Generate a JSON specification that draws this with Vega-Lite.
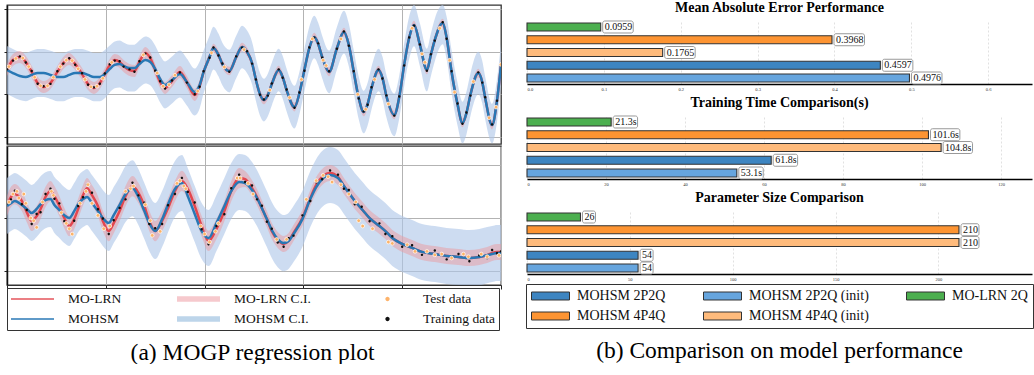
{
  "$schema": "https://vega.github.io/schema/vega-lite/v6.json",
  "background": "white",
  "padding": {"left": 2, "top": 1, "right": 0, "bottom": 0},
  "config": {
    "font": "Liberation Serif",
    "view": {"stroke": "#333", "strokeWidth": 1.3},
    "axis": {"title": null},
    "title": {"font": "Liberation Serif", "color": "#000"}
  },
  "datasets": {
    "top_curve": [
      {"x": 0, "t": 0.14, "m": 0.14, "bl": -0.99, "bh": 1.27, "rl": -0.14, "rh": 0.42, "o": 0.18},
      {"x": 0.06, "t": 0.61, "m": 0.0, "bl": -1.13, "bh": 1.13, "rl": 0.33, "rh": 0.89, "o": 0.58},
      {"x": 0.13, "t": 0.75, "m": -0.14, "bl": -1.27, "bh": 0.99, "rl": 0.47, "rh": 1.03, "o": 0.78},
      {"x": 0.19, "t": 0.52, "m": -0.19, "bl": -1.32, "bh": 0.94, "rl": 0.24, "rh": 0.8, "o": 0.49},
      {"x": 0.25, "t": 0.05, "m": -0.09, "bl": -1.22, "bh": 1.04, "rl": -0.23, "rh": 0.33, "o": 0.09},
      {"x": 0.31, "t": -0.47, "m": 0.0, "bl": -1.13, "bh": 1.13, "rl": -0.75, "rh": -0.19, "o": -0.5},
      {"x": 0.37, "t": -0.66, "m": 0.0, "bl": -1.13, "bh": 1.13, "rl": -0.94, "rh": -0.38, "o": -0.62},
      {"x": 0.44, "t": -0.47, "m": -0.09, "bl": -1.22, "bh": 1.04, "rl": -0.75, "rh": -0.19, "o": -0.51},
      {"x": 0.51, "t": 0.05, "m": -0.19, "bl": -1.32, "bh": 0.94, "rl": -0.23, "rh": 0.33, "o": 0.08},
      {"x": 0.57, "t": 0.47, "m": -0.19, "bl": -1.32, "bh": 0.94, "rl": 0.19, "rh": 0.75, "o": 0.44},
      {"x": 0.63, "t": 0.66, "m": -0.09, "bl": -1.22, "bh": 1.04, "rl": 0.38, "rh": 0.94, "o": 0.69},
      {"x": 0.69, "t": 0.42, "m": 0.0, "bl": -1.13, "bh": 1.13, "rl": 0.14, "rh": 0.7, "o": 0.39},
      {"x": 0.76, "t": -0.05, "m": 0.0, "bl": -1.13, "bh": 1.13, "rl": -0.33, "rh": 0.23, "o": -0.01},
      {"x": 0.82, "t": -0.52, "m": -0.09, "bl": -1.22, "bh": 1.04, "rl": -0.8, "rh": -0.24, "o": -0.55},
      {"x": 0.88, "t": -0.7, "m": -0.19, "bl": -1.32, "bh": 0.94, "rl": -0.98, "rh": -0.42, "o": -0.67},
      {"x": 0.94, "t": -0.47, "m": -0.19, "bl": -1.32, "bh": 0.94, "rl": -0.75, "rh": -0.19, "o": -0.5},
      {"x": 0.99, "t": -0.05, "m": -0.05, "bl": -1.18, "bh": 1.08, "rl": -0.33, "rh": 0.23, "o": -0.02},
      {"x": 1.04, "t": 0.38, "m": 0.19, "bl": -0.91, "bh": 1.29, "rl": 0.1, "rh": 0.66, "o": 0.41},
      {"x": 1.09, "t": 0.61, "m": 0.38, "bl": -0.72, "bh": 1.48, "rl": 0.33, "rh": 0.89, "o": 0.58},
      {"x": 1.14, "t": 0.52, "m": 0.42, "bl": -0.68, "bh": 1.52, "rl": 0.24, "rh": 0.8, "o": 0.55},
      {"x": 1.18, "t": 0.33, "m": 0.33, "bl": -0.77, "bh": 1.43, "rl": 0.05, "rh": 0.61, "o": 0.3},
      {"x": 1.24, "t": 0.14, "m": 0.23, "bl": -0.87, "bh": 1.33, "rl": -0.14, "rh": 0.42, "o": 0.17},
      {"x": 1.29, "t": 0.09, "m": 0.23, "bl": -0.87, "bh": 1.33, "rl": -0.19, "rh": 0.37, "o": 0.06},
      {"x": 1.34, "t": 0.52, "m": 0.42, "bl": -0.68, "bh": 1.52, "rl": 0.24, "rh": 0.8, "o": 0.55},
      {"x": 1.4, "t": 0.94, "m": 0.61, "bl": -0.49, "bh": 1.71, "rl": 0.66, "rh": 1.22, "o": 0.91},
      {"x": 1.45, "t": 0.7, "m": 0.52, "bl": -0.58, "bh": 1.62, "rl": 0.42, "rh": 0.98, "o": 0.73},
      {"x": 1.5, "t": 0.14, "m": 0.19, "bl": -0.91, "bh": 1.29, "rl": -0.14, "rh": 0.42, "o": 0.11},
      {"x": 1.55, "t": -0.42, "m": -0.28, "bl": -1.38, "bh": 0.82, "rl": -0.7, "rh": -0.14, "o": -0.39},
      {"x": 1.6, "t": -0.7, "m": -0.56, "bl": -1.66, "bh": 0.54, "rl": -0.98, "rh": -0.42, "o": -0.73},
      {"x": 1.67, "t": -0.38, "m": -0.33, "bl": -1.43, "bh": 0.77, "rl": -0.66, "rh": -0.1, "o": -0.35},
      {"x": 1.75, "t": 0.05, "m": -0.05, "bl": -1.15, "bh": 1.05, "rl": -0.23, "rh": 0.33, "o": 0.02},
      {"x": 1.82, "t": -0.42, "m": -0.42, "bl": -1.52, "bh": 0.68, "rl": -0.7, "rh": -0.14, "o": -0.45},
      {"x": 1.9, "t": -1.03, "m": -0.89, "bl": -1.99, "bh": 0.21, "rl": -1.31, "rh": -0.75, "o": -1.0},
      {"x": 1.95, "t": -0.61, "m": -0.56, "bl": -1.66, "bh": 0.54, "rl": -0.89, "rh": -0.33, "o": -0.64},
      {"x": 1.99, "t": 0.05, "m": 0.05, "bl": -0.95, "bh": 1.05, "rl": -0.15, "rh": 0.25, "o": 0.08},
      {"x": 2.05, "t": 0.75, "m": 0.75, "bl": -0.25, "bh": 1.75, "rl": 0.55, "rh": 0.95, "o": 0.72},
      {"x": 2.09, "t": 1.17, "m": 1.17, "bl": 0.17, "bh": 2.17, "rl": 0.97, "rh": 1.37, "o": 1.2},
      {"x": 2.14, "t": 0.85, "m": 0.85, "bl": -0.15, "bh": 1.85, "rl": 0.65, "rh": 1.05, "o": 0.82},
      {"x": 2.18, "t": 0.42, "m": 0.42, "bl": -0.58, "bh": 1.42, "rl": 0.22, "rh": 0.62, "o": 0.45},
      {"x": 2.25, "t": 0.09, "m": 0.09, "bl": -0.91, "bh": 1.09, "rl": -0.11, "rh": 0.29, "o": 0.06},
      {"x": 2.32, "t": 0.75, "m": 0.75, "bl": -0.25, "bh": 1.75, "rl": 0.55, "rh": 0.95, "o": 0.78},
      {"x": 2.38, "t": 1.22, "m": 1.22, "bl": 0.22, "bh": 2.22, "rl": 1.02, "rh": 1.42, "o": 1.19},
      {"x": 2.43, "t": 0.99, "m": 0.99, "bl": -0.01, "bh": 1.99, "rl": 0.79, "rh": 1.19, "o": 1.02},
      {"x": 2.48, "t": 0.47, "m": 0.47, "bl": -0.53, "bh": 1.47, "rl": 0.27, "rh": 0.67, "o": 0.44},
      {"x": 2.52, "t": -0.33, "m": -0.33, "bl": -1.33, "bh": 0.67, "rl": -0.53, "rh": -0.13, "o": -0.3},
      {"x": 2.56, "t": -0.99, "m": -0.99, "bl": -1.99, "bh": 0.01, "rl": -1.19, "rh": -0.79, "o": -1.02},
      {"x": 2.6, "t": -1.27, "m": -1.27, "bl": -2.27, "bh": -0.27, "rl": -1.47, "rh": -1.07, "o": -1.24},
      {"x": 2.64, "t": -1.03, "m": -1.03, "bl": -2.03, "bh": -0.03, "rl": -1.23, "rh": -0.83, "o": -1.06},
      {"x": 2.68, "t": -0.52, "m": -0.52, "bl": -1.52, "bh": 0.48, "rl": -0.72, "rh": -0.32, "o": -0.49},
      {"x": 2.75, "t": 0.14, "m": 0.14, "bl": -0.86, "bh": 1.14, "rl": -0.06, "rh": 0.34, "o": 0.17},
      {"x": 2.79, "t": -0.19, "m": -0.19, "bl": -1.19, "bh": 0.81, "rl": -0.39, "rh": 0.01, "o": -0.22},
      {"x": 2.83, "t": -0.8, "m": -0.8, "bl": -1.8, "bh": 0.2, "rl": -1.0, "rh": -0.6, "o": -0.77},
      {"x": 2.91, "t": -1.6, "m": -1.6, "bl": -2.6, "bh": -0.6, "rl": -1.8, "rh": -1.4, "o": -1.63},
      {"x": 2.96, "t": -0.94, "m": -0.94, "bl": -1.94, "bh": 0.06, "rl": -1.14, "rh": -0.74, "o": -0.91},
      {"x": 3.01, "t": 0.14, "m": 0.14, "bl": -0.86, "bh": 1.14, "rl": -0.06, "rh": 0.34, "o": 0.11},
      {"x": 3.06, "t": 1.17, "m": 1.17, "bl": 0.17, "bh": 2.17, "rl": 0.97, "rh": 1.37, "o": 1.2},
      {"x": 3.11, "t": 1.69, "m": 1.69, "bl": 0.69, "bh": 2.69, "rl": 1.49, "rh": 1.89, "o": 1.66},
      {"x": 3.15, "t": 1.36, "m": 1.36, "bl": 0.36, "bh": 2.36, "rl": 1.16, "rh": 1.56, "o": 1.39},
      {"x": 3.19, "t": 0.75, "m": 0.75, "bl": -0.25, "bh": 1.75, "rl": 0.55, "rh": 0.95, "o": 0.72},
      {"x": 3.26, "t": 0.05, "m": 0.05, "bl": -0.95, "bh": 1.05, "rl": -0.15, "rh": 0.25, "o": 0.08},
      {"x": 3.34, "t": 1.17, "m": 1.17, "bl": 0.17, "bh": 2.17, "rl": 0.97, "rh": 1.37, "o": 1.14},
      {"x": 3.41, "t": 1.92, "m": 1.92, "bl": 0.92, "bh": 2.92, "rl": 1.72, "rh": 2.12, "o": 1.95},
      {"x": 3.46, "t": 1.31, "m": 1.31, "bl": 0.31, "bh": 2.31, "rl": 1.11, "rh": 1.51, "o": 1.28},
      {"x": 3.51, "t": 0.05, "m": 0.05, "bl": -0.95, "bh": 1.05, "rl": -0.15, "rh": 0.25, "o": 0.08},
      {"x": 3.56, "t": -1.17, "m": -1.17, "bl": -2.17, "bh": -0.17, "rl": -1.37, "rh": -0.97, "o": -1.2},
      {"x": 3.61, "t": -1.83, "m": -1.83, "bl": -2.83, "bh": -0.83, "rl": -2.03, "rh": -1.63, "o": -1.8},
      {"x": 3.65, "t": -1.46, "m": -1.46, "bl": -2.46, "bh": -0.46, "rl": -1.66, "rh": -1.26, "o": -1.49},
      {"x": 3.69, "t": -0.7, "m": -0.7, "bl": -1.7, "bh": 0.3, "rl": -0.9, "rh": -0.5, "o": -0.67},
      {"x": 3.76, "t": 0.14, "m": 0.14, "bl": -0.86, "bh": 1.14, "rl": -0.06, "rh": 0.34, "o": 0.17},
      {"x": 3.8, "t": -0.23, "m": -0.23, "bl": -1.23, "bh": 0.77, "rl": -0.43, "rh": -0.03, "o": -0.26},
      {"x": 3.84, "t": -1.08, "m": -1.08, "bl": -2.08, "bh": -0.08, "rl": -1.28, "rh": -0.88, "o": -1.05},
      {"x": 3.92, "t": -1.97, "m": -1.97, "bl": -2.97, "bh": -0.97, "rl": -2.17, "rh": -1.77, "o": -2.0},
      {"x": 3.97, "t": -1.13, "m": -1.13, "bl": -2.13, "bh": -0.13, "rl": -1.33, "rh": -0.93, "o": -1.1},
      {"x": 4.02, "t": 0.38, "m": 0.38, "bl": -0.62, "bh": 1.38, "rl": 0.18, "rh": 0.58, "o": 0.35},
      {"x": 4.07, "t": 1.64, "m": 1.64, "bl": 0.64, "bh": 2.64, "rl": 1.44, "rh": 1.84, "o": 1.67},
      {"x": 4.12, "t": 2.25, "m": 2.25, "bl": 1.25, "bh": 3.19, "rl": 2.05, "rh": 2.45, "o": 2.22},
      {"x": 4.18, "t": 1.31, "m": 1.31, "bl": 0.31, "bh": 2.31, "rl": 1.11, "rh": 1.51, "o": 1.34},
      {"x": 4.25, "t": 0.14, "m": 0.14, "bl": -0.86, "bh": 1.14, "rl": -0.06, "rh": 0.34, "o": 0.11},
      {"x": 4.29, "t": 0.85, "m": 0.85, "bl": -0.15, "bh": 1.85, "rl": 0.65, "rh": 1.05, "o": 0.88},
      {"x": 4.33, "t": 1.55, "m": 1.55, "bl": 0.55, "bh": 2.55, "rl": 1.35, "rh": 1.75, "o": 1.52},
      {"x": 4.41, "t": 2.35, "m": 2.35, "bl": 1.35, "bh": 3.19, "rl": 2.15, "rh": 2.55, "o": 2.38},
      {"x": 4.45, "t": 1.64, "m": 1.64, "bl": 0.64, "bh": 2.64, "rl": 1.44, "rh": 1.84, "o": 1.61},
      {"x": 4.5, "t": 0.05, "m": 0.05, "bl": -0.95, "bh": 1.05, "rl": -0.15, "rh": 0.25, "o": 0.08},
      {"x": 4.56, "t": -1.46, "m": -1.46, "bl": -2.46, "bh": -0.46, "rl": -1.66, "rh": -1.26, "o": -1.43},
      {"x": 4.61, "t": -2.35, "m": -2.35, "bl": -3.3, "bh": -1.35, "rl": -2.55, "rh": -2.15, "o": -2.38},
      {"x": 4.65, "t": -1.88, "m": -1.88, "bl": -2.88, "bh": -0.88, "rl": -2.08, "rh": -1.68, "o": -1.85},
      {"x": 4.69, "t": -1.03, "m": -1.03, "bl": -2.03, "bh": -0.03, "rl": -1.23, "rh": -0.83, "o": -1.06},
      {"x": 4.77, "t": 0.0, "m": 0.0, "bl": -1.0, "bh": 1.0, "rl": -0.2, "rh": 0.2, "o": 0.03},
      {"x": 4.81, "t": -0.42, "m": -0.42, "bl": -1.42, "bh": 0.58, "rl": -0.62, "rh": -0.22, "o": -0.45},
      {"x": 4.84, "t": -1.17, "m": -1.17, "bl": -2.17, "bh": -0.17, "rl": -1.37, "rh": -0.97, "o": -1.14},
      {"x": 4.91, "t": -2.44, "m": -2.44, "bl": -3.3, "bh": -1.44, "rl": -2.64, "rh": -2.24, "o": -2.41},
      {"x": 4.96, "t": -1.27, "m": -1.27, "bl": -2.27, "bh": -0.27, "rl": -1.47, "rh": -1.07, "o": -1.3},
      {"x": 5.0, "t": 0.38, "m": 0.38, "bl": -0.62, "bh": 1.38, "rl": 0.18, "rh": 0.58, "o": 0.35}
    ],
    "top_test": [
      {"x": 0.02, "y": 0.3}, {"x": 0.09, "y": 0.68}, {"x": 0.16, "y": 0.7}, {"x": 0.22, "y": 0.3},
      {"x": 0.28, "y": -0.2}, {"x": 0.34, "y": -0.6}, {"x": 0.41, "y": -0.6}, {"x": 0.47, "y": -0.2},
      {"x": 0.54, "y": 0.3}, {"x": 0.6, "y": 0.6}, {"x": 0.66, "y": 0.58}, {"x": 0.72, "y": 0.2},
      {"x": 0.79, "y": -0.3}, {"x": 0.85, "y": -0.65}, {"x": 0.91, "y": -0.62}, {"x": 0.97, "y": -0.25},
      {"x": 1.06, "y": 0.5}, {"x": 1.38, "y": 0.85}, {"x": 1.52, "y": 0.0}, {"x": 1.58, "y": -0.62},
      {"x": 1.64, "y": -0.55}, {"x": 1.7, "y": -0.1}, {"x": 1.93, "y": -0.85}, {"x": 2.07, "y": 0.95},
      {"x": 2.2, "y": 0.28}, {"x": 2.4, "y": 1.1}, {"x": 2.66, "y": -0.8}, {"x": 2.86, "y": -1.15},
      {"x": 2.98, "y": -0.3}, {"x": 3.09, "y": 1.6}, {"x": 3.2, "y": 0.6}, {"x": 3.23, "y": 0.35},
      {"x": 3.38, "y": 1.6}, {"x": 3.55, "y": -1.0}, {"x": 3.63, "y": -1.7}, {"x": 3.72, "y": -0.3},
      {"x": 3.86, "y": -1.45}, {"x": 4.1, "y": 2.1}, {"x": 4.2, "y": 0.9}, {"x": 4.23, "y": 0.5},
      {"x": 4.38, "y": 2.1}, {"x": 4.48, "y": 0.6}, {"x": 4.53, "y": -0.9}, {"x": 4.72, "y": -0.4},
      {"x": 4.88, "y": -2.1}, {"x": 4.95, "y": -1.6}, {"x": 5.0, "y": 0.4}
    ],
    "bottom_curve": [
      {"x": 0, "t": 0.45, "m": 0.45, "bl": -0.6, "bh": 1.5, "rl": 0.07, "rh": 0.83, "o": 0.55},
      {"x": 0.04, "t": 0.79, "m": 0.56, "bl": -0.49, "bh": 1.61, "rl": 0.41, "rh": 1.17, "o": 0.7},
      {"x": 0.08, "t": 0.9, "m": 0.64, "bl": -0.41, "bh": 1.69, "rl": 0.52, "rh": 1.28, "o": 1.02},
      {"x": 0.15, "t": 0.64, "m": 0.49, "bl": -0.56, "bh": 1.54, "rl": 0.26, "rh": 1.02, "o": 0.52},
      {"x": 0.2, "t": 0.22, "m": 0.34, "bl": -0.71, "bh": 1.39, "rl": -0.16, "rh": 0.6, "o": 0.3},
      {"x": 0.25, "t": -0.11, "m": 0.19, "bl": -0.86, "bh": 1.24, "rl": -0.49, "rh": 0.27, "o": -0.22},
      {"x": 0.3, "t": 0.07, "m": 0.34, "bl": -0.71, "bh": 1.39, "rl": -0.31, "rh": 0.45, "o": 0.15},
      {"x": 0.34, "t": 0.34, "m": 0.52, "bl": -0.53, "bh": 1.57, "rl": -0.04, "rh": 0.72, "o": 0.22},
      {"x": 0.39, "t": 0.79, "m": 0.67, "bl": -0.38, "bh": 1.72, "rl": 0.41, "rh": 1.17, "o": 0.9},
      {"x": 0.44, "t": 1.01, "m": 0.71, "bl": -0.34, "bh": 1.76, "rl": 0.63, "rh": 1.39, "o": 1.1},
      {"x": 0.48, "t": 0.82, "m": 0.49, "bl": -0.56, "bh": 1.54, "rl": 0.44, "rh": 1.2, "o": 0.72},
      {"x": 0.53, "t": 0.45, "m": 0.3, "bl": -0.75, "bh": 1.35, "rl": 0.07, "rh": 0.83, "o": 0.55},
      {"x": 0.58, "t": 0.0, "m": 0.11, "bl": -0.94, "bh": 1.16, "rl": -0.38, "rh": 0.38, "o": -0.12},
      {"x": 0.63, "t": -0.3, "m": 0.0, "bl": -1.05, "bh": 1.05, "rl": -0.68, "rh": 0.08, "o": -0.42},
      {"x": 0.68, "t": -0.04, "m": 0.26, "bl": -0.79, "bh": 1.31, "rl": -0.42, "rh": 0.34, "o": -0.1},
      {"x": 0.72, "t": 0.34, "m": 0.52, "bl": -0.53, "bh": 1.57, "rl": -0.04, "rh": 0.72, "o": 0.45},
      {"x": 0.77, "t": 0.86, "m": 0.71, "bl": -0.34, "bh": 1.76, "rl": 0.48, "rh": 1.24, "o": 0.78},
      {"x": 0.81, "t": 1.12, "m": 0.79, "bl": -0.26, "bh": 1.84, "rl": 0.74, "rh": 1.5, "o": 1.25},
      {"x": 0.86, "t": 0.86, "m": 0.56, "bl": -0.49, "bh": 1.61, "rl": 0.48, "rh": 1.24, "o": 0.95},
      {"x": 0.92, "t": 0.45, "m": 0.26, "bl": -0.79, "bh": 1.31, "rl": 0.07, "rh": 0.83, "o": 0.33},
      {"x": 0.97, "t": -0.11, "m": 0.0, "bl": -1.05, "bh": 1.05, "rl": -0.49, "rh": 0.27, "o": -0.02},
      {"x": 1.03, "t": -0.49, "m": -0.19, "bl": -1.24, "bh": 0.86, "rl": -0.87, "rh": -0.11, "o": -0.6},
      {"x": 1.08, "t": -0.19, "m": 0.11, "bl": -0.94, "bh": 1.16, "rl": -0.57, "rh": 0.19, "o": -0.08},
      {"x": 1.14, "t": 0.26, "m": 0.49, "bl": -0.56, "bh": 1.54, "rl": -0.12, "rh": 0.64, "o": 0.38},
      {"x": 1.2, "t": 0.82, "m": 0.9, "bl": -0.15, "bh": 1.95, "rl": 0.44, "rh": 1.2, "o": 0.7},
      {"x": 1.27, "t": 1.2, "m": 1.12, "bl": 0.07, "bh": 2.17, "rl": 0.82, "rh": 1.58, "o": 1.32},
      {"x": 1.33, "t": 0.94, "m": 0.79, "bl": -0.26, "bh": 1.84, "rl": 0.56, "rh": 1.32, "o": 0.85},
      {"x": 1.39, "t": 0.45, "m": 0.26, "bl": -0.79, "bh": 1.31, "rl": 0.07, "rh": 0.83, "o": 0.57},
      {"x": 1.44, "t": -0.11, "m": -0.19, "bl": -1.24, "bh": 0.86, "rl": -0.49, "rh": 0.27, "o": -0.22},
      {"x": 1.5, "t": -0.49, "m": -0.49, "bl": -1.54, "bh": 0.56, "rl": -0.87, "rh": -0.11, "o": -0.38},
      {"x": 1.57, "t": -0.11, "m": -0.04, "bl": -1.09, "bh": 1.01, "rl": -0.49, "rh": 0.27, "o": -0.22},
      {"x": 1.63, "t": 0.37, "m": 0.52, "bl": -0.53, "bh": 1.57, "rl": -0.01, "rh": 0.75, "o": 0.48},
      {"x": 1.7, "t": 1.01, "m": 1.09, "bl": 0.04, "bh": 2.14, "rl": 0.63, "rh": 1.39, "o": 0.9},
      {"x": 1.77, "t": 1.39, "m": 1.31, "bl": 0.26, "bh": 2.36, "rl": 1.01, "rh": 1.77, "o": 1.5},
      {"x": 1.83, "t": 1.09, "m": 0.82, "bl": -0.23, "bh": 1.87, "rl": 0.71, "rh": 1.47, "o": 0.98},
      {"x": 1.9, "t": 0.45, "m": 0.15, "bl": -0.9, "bh": 1.2, "rl": 0.07, "rh": 0.83, "o": 0.58},
      {"x": 1.97, "t": -0.3, "m": -0.49, "bl": -1.54, "bh": 0.56, "rl": -0.68, "rh": 0.08, "o": -0.42},
      {"x": 2.04, "t": -0.86, "m": -0.75, "bl": -1.8, "bh": 0.3, "rl": -1.24, "rh": -0.48, "o": -0.98},
      {"x": 2.12, "t": -0.41, "m": -0.19, "bl": -1.24, "bh": 0.86, "rl": -0.79, "rh": -0.03, "o": -0.3},
      {"x": 2.2, "t": 0.26, "m": 0.45, "bl": -0.6, "bh": 1.5, "rl": -0.12, "rh": 0.64, "o": 0.14},
      {"x": 2.27, "t": 1.01, "m": 1.01, "bl": -0.04, "bh": 2.06, "rl": 0.63, "rh": 1.39, "o": 1.12},
      {"x": 2.35, "t": 1.5, "m": 1.35, "bl": 0.3, "bh": 2.4, "rl": 1.12, "rh": 1.88, "o": 1.62},
      {"x": 2.41, "t": 1.46, "m": 1.31, "bl": 0.26, "bh": 2.36, "rl": 1.16, "rh": 1.76, "o": 1.35},
      {"x": 2.48, "t": 1.12, "m": 1.05, "bl": 0.0, "bh": 2.1, "rl": 0.82, "rh": 1.42, "o": 1.22},
      {"x": 2.53, "t": 0.79, "m": 0.75, "bl": -0.3, "bh": 1.8, "rl": 0.49, "rh": 1.09, "o": 0.7},
      {"x": 2.58, "t": 0.37, "m": 0.37, "bl": -0.68, "bh": 1.42, "rl": 0.07, "rh": 0.67, "o": 0.46},
      {"x": 2.63, "t": -0.04, "m": -0.04, "bl": -1.09, "bh": 1.01, "rl": -0.34, "rh": 0.26, "o": -0.14},
      {"x": 2.68, "t": -0.49, "m": -0.45, "bl": -1.5, "bh": 0.6, "rl": -0.79, "rh": -0.19, "o": -0.4},
      {"x": 2.74, "t": -0.82, "m": -0.79, "bl": -1.84, "bh": 0.26, "rl": -1.12, "rh": -0.52, "o": -0.92},
      {"x": 2.8, "t": -0.97, "m": -0.94, "bl": -1.99, "bh": 0.11, "rl": -1.27, "rh": -0.67, "o": -1.08},
      {"x": 2.85, "t": -0.86, "m": -0.86, "bl": -1.91, "bh": 0.19, "rl": -1.16, "rh": -0.56, "o": -0.76},
      {"x": 2.9, "t": -0.56, "m": -0.6, "bl": -1.65, "bh": 0.45, "rl": -0.86, "rh": -0.26, "o": -0.66},
      {"x": 2.99, "t": 0.0, "m": -0.04, "bl": -1.09, "bh": 1.01, "rl": -0.3, "rh": 0.3, "o": 0.1},
      {"x": 3.07, "t": 0.75, "m": 0.71, "bl": -0.34, "bh": 1.76, "rl": 0.45, "rh": 1.05, "o": 0.64},
      {"x": 3.13, "t": 1.24, "m": 1.16, "bl": 0.11, "bh": 2.21, "rl": 0.94, "rh": 1.54, "o": 1.34},
      {"x": 3.19, "t": 1.54, "m": 1.46, "bl": 0.41, "bh": 2.51, "rl": 1.24, "rh": 1.84, "o": 1.45},
      {"x": 3.27, "t": 1.69, "m": 1.61, "bl": 0.56, "bh": 2.66, "rl": 1.39, "rh": 1.99, "o": 1.78},
      {"x": 3.35, "t": 1.54, "m": 1.5, "bl": 0.45, "bh": 2.55, "rl": 1.24, "rh": 1.84, "o": 1.62},
      {"x": 3.41, "t": 1.2, "m": 1.2, "bl": 0.15, "bh": 2.25, "rl": 0.9, "rh": 1.5, "o": 1.1},
      {"x": 3.46, "t": 0.94, "m": 0.94, "bl": -0.11, "bh": 1.99, "rl": 0.64, "rh": 1.24, "o": 1.05},
      {"x": 3.52, "t": 0.64, "m": 0.64, "bl": -0.41, "bh": 1.69, "rl": 0.34, "rh": 0.94, "o": 0.52},
      {"x": 3.59, "t": 0.34, "m": 0.34, "bl": -0.71, "bh": 1.39, "rl": 0.04, "rh": 0.64, "o": 0.42},
      {"x": 3.67, "t": 0.0, "m": 0.0, "bl": -1.05, "bh": 1.05, "rl": -0.3, "rh": 0.3, "o": -0.12},
      {"x": 3.77, "t": -0.3, "m": -0.3, "bl": -1.35, "bh": 0.75, "rl": -0.6, "rh": 0.0, "o": -0.2},
      {"x": 3.83, "t": -0.49, "m": -0.49, "bl": -1.54, "bh": 0.56, "rl": -0.79, "rh": -0.19, "o": -0.6},
      {"x": 3.9, "t": -0.75, "m": -0.75, "bl": -1.8, "bh": 0.3, "rl": -1.05, "rh": -0.45, "o": -0.68},
      {"x": 4.0, "t": -0.97, "m": -0.97, "bl": -2.02, "bh": 0.08, "rl": -1.27, "rh": -0.67, "o": -1.08},
      {"x": 4.1, "t": -1.12, "m": -1.12, "bl": -2.17, "bh": -0.07, "rl": -1.42, "rh": -0.82, "o": -1.02},
      {"x": 4.2, "t": -1.27, "m": -1.27, "bl": -2.32, "bh": -0.22, "rl": -1.57, "rh": -0.97, "o": -1.38},
      {"x": 4.33, "t": -1.35, "m": -1.35, "bl": -2.4, "bh": -0.3, "rl": -1.65, "rh": -1.05, "o": -1.22},
      {"x": 4.45, "t": -1.42, "m": -1.42, "bl": -2.47, "bh": -0.37, "rl": -1.72, "rh": -1.12, "o": -1.55},
      {"x": 4.57, "t": -1.46, "m": -1.46, "bl": -2.51, "bh": -0.41, "rl": -1.76, "rh": -1.16, "o": -1.35},
      {"x": 4.68, "t": -1.5, "m": -1.5, "bl": -2.51, "bh": -0.45, "rl": -1.8, "rh": -1.2, "o": -1.62},
      {"x": 4.78, "t": -1.46, "m": -1.46, "bl": -2.51, "bh": -0.41, "rl": -1.76, "rh": -1.16, "o": -1.4},
      {"x": 4.86, "t": -1.39, "m": -1.39, "bl": -2.44, "bh": -0.34, "rl": -1.69, "rh": -1.09, "o": -1.5},
      {"x": 4.91, "t": -1.31, "m": -1.35, "bl": -2.4, "bh": -0.3, "rl": -1.61, "rh": -1.01, "o": -1.2},
      {"x": 4.96, "t": -1.27, "m": -1.31, "bl": -2.36, "bh": -0.26, "rl": -1.57, "rh": -0.97, "o": -1.32},
      {"x": 5.0, "t": -1.27, "m": -1.31, "bl": -2.36, "bh": -0.26, "rl": -1.57, "rh": -0.97, "o": -1.25}
    ],
    "bottom_test": [
      {"x": 0.02, "y": 0.6}, {"x": 0.06, "y": 0.9}, {"x": 0.1, "y": 1.0}, {"x": 0.12, "y": 0.75},
      {"x": 0.17, "y": 0.9}, {"x": 0.19, "y": 0.55}, {"x": 0.24, "y": 0.0}, {"x": 0.27, "y": -0.1},
      {"x": 0.3, "y": -0.35}, {"x": 0.36, "y": 0.6}, {"x": 0.45, "y": 1.0}, {"x": 0.47, "y": 0.85},
      {"x": 0.55, "y": 0.2}, {"x": 0.6, "y": -0.2}, {"x": 0.63, "y": -0.4}, {"x": 0.66, "y": -0.6},
      {"x": 0.74, "y": 0.55}, {"x": 0.8, "y": 1.0}, {"x": 0.82, "y": 1.25}, {"x": 0.86, "y": 0.55},
      {"x": 0.92, "y": 0.1}, {"x": 0.98, "y": -0.4}, {"x": 1.04, "y": -0.3}, {"x": 1.2, "y": 1.0},
      {"x": 1.25, "y": 1.1}, {"x": 1.28, "y": 1.2}, {"x": 1.4, "y": 0.5}, {"x": 1.45, "y": -0.1},
      {"x": 1.47, "y": -0.65}, {"x": 1.55, "y": -0.5}, {"x": 1.72, "y": 1.3}, {"x": 1.75, "y": 1.4},
      {"x": 1.79, "y": 1.2}, {"x": 1.81, "y": 1.1}, {"x": 1.96, "y": -0.3}, {"x": 2.0, "y": -0.6},
      {"x": 2.05, "y": -0.9}, {"x": 2.11, "y": -0.5}, {"x": 2.14, "y": -0.2}, {"x": 2.33, "y": 1.5},
      {"x": 2.36, "y": 1.5}, {"x": 2.44, "y": 1.3}, {"x": 2.49, "y": 0.9}, {"x": 2.73, "y": -0.8},
      {"x": 2.83, "y": -0.8}, {"x": 3.03, "y": 0.7}, {"x": 3.13, "y": 1.4}, {"x": 3.2, "y": 1.6},
      {"x": 3.25, "y": 1.55}, {"x": 3.29, "y": 1.35}, {"x": 3.38, "y": 1.25}, {"x": 3.46, "y": 0.9},
      {"x": 3.53, "y": 0.6}, {"x": 3.56, "y": -0.1}, {"x": 3.6, "y": -0.3}, {"x": 3.7, "y": -0.4},
      {"x": 3.86, "y": -0.9}, {"x": 3.9, "y": -0.95}, {"x": 4.05, "y": -1.0}, {"x": 4.13, "y": -1.25},
      {"x": 4.25, "y": -1.25}, {"x": 4.33, "y": -1.38}, {"x": 4.4, "y": -1.35}, {"x": 4.5, "y": -1.5},
      {"x": 4.62, "y": -1.35}, {"x": 4.67, "y": -1.45}, {"x": 4.8, "y": -1.35}, {"x": 4.86, "y": -1.45},
      {"x": 4.98, "y": -1.4}
    ],
    "mae": [
      {"model": "MO-LRN 2Q", "v": 0.0959, "label": "0.0959"},
      {"model": "MOHSM 4P4Q", "v": 0.3968, "label": "0.3968"},
      {"model": "MOHSM 4P4Q (init)", "v": 0.1765, "label": "0.1765"},
      {"model": "MOHSM 2P2Q", "v": 0.4597, "label": "0.4597"},
      {"model": "MOHSM 2P2Q (init)", "v": 0.4976, "label": "0.4976"}
    ],
    "time": [
      {"model": "MO-LRN 2Q", "v": 21.3, "label": "21.3s"},
      {"model": "MOHSM 4P4Q", "v": 101.6, "label": "101.6s"},
      {"model": "MOHSM 4P4Q (init)", "v": 104.8, "label": "104.8s"},
      {"model": "MOHSM 2P2Q", "v": 61.8, "label": "61.8s"},
      {"model": "MOHSM 2P2Q (init)", "v": 53.1, "label": "53.1s"}
    ],
    "params": [
      {"model": "MO-LRN 2Q", "v": 26, "label": "26"},
      {"model": "MOHSM 4P4Q", "v": 210, "label": "210"},
      {"model": "MOHSM 4P4Q (init)", "v": 210, "label": "210"},
      {"model": "MOHSM 2P2Q", "v": 54, "label": "54"},
      {"model": "MOHSM 2P2Q (init)", "v": 54, "label": "54"}
    ],
    "mae_heading": [
      {"heading": "Mean Absolute Error Performance"}
    ]
  },
  "resolve": {"scale": {"color": "independent", "shape": "independent"}},
  "columns": 2,
  "align": "none",
  "spacing": 22,
  "concat": [
    {
      "title": {"text": "(a) MOGP regression plot", "orient": "bottom", "anchor": "middle", "fontSize": 23.5, "fontWeight": "normal", "offset": 10},
      "spacing": 0,
      "vconcat": [
        {
          "width": 494,
          "height": 139,
          "data": {"name": "top_curve"},
          "encoding": {
            "x": {"field": "x", "type": "quantitative", "scale": {"domain": [0, 5], "nice": false, "zero": false},
                  "axis": {"values": [1, 2, 3, 4], "labels": false, "ticks": false, "domain": false, "grid": true, "gridColor": "#b3b3b3", "gridWidth": 1}}
          },
          "layer": [
            {"mark": {"type": "area", "color": "#aec7e8", "opacity": 0.62, "interpolate": "monotone", "clip": true},
             "encoding": {"y": {"field": "bl", "type": "quantitative", "scale": {"domain": [-3.33, 3.19], "nice": false, "zero": false},
                                "axis": {"values": [-3, -2, -1, 0, 1, 2, 3], "labels": false, "ticks": true, "tickSize": 3, "tickColor": "#222", "domain": true, "domainColor": "#111", "domainWidth": 1.5, "grid": true, "gridColor": "#b3b3b3", "gridWidth": 1}},
                          "y2": {"field": "bh"}}},
            {"mark": {"type": "area", "color": "#ec9aa0", "opacity": 0.5, "interpolate": "monotone", "clip": true},
             "encoding": {"y": {"field": "rl", "type": "quantitative"}, "y2": {"field": "rh"}}},
            {"mark": {"type": "line", "color": "#e3474f", "strokeWidth": 2.5, "interpolate": "monotone", "clip": true},
             "encoding": {"y": {"field": "t", "type": "quantitative"}}},
            {"mark": {"type": "line", "color": "#2878b5", "strokeWidth": 2.5, "interpolate": "monotone", "clip": true},
             "encoding": {"y": {"field": "m", "type": "quantitative"}}},
            {"mark": {"type": "point", "filled": true, "size": 600, "opacity": 1, "clip": true},
             "encoding": {
               "y": {"field": "o", "type": "quantitative"},
               "color": {"datum": "Training data", "type": "nominal",
                         "scale": {"domain": ["MO-LRN", "MOHSM", "MO-LRN C.I.", "MOHSM C.I.", "Test data", "Training data"],
                                   "range": ["#e5555b", "#2a78b6", "#f6c9cd", "#bdd5ea", "#fdb36b", "#111111"]},
                         "legend": {"title": null, "orient": "none", "legendX": 0, "legendY": 283, "columns": 3, "columnPadding": 55, "rowPadding": 6, "clipHeight": 14, "symbolSize": 1849, "symbolStrokeWidth": 0, "labelOffset": 14, "labelFont": "Liberation Serif", "labelFontSize": 13.5, "labelColor": "#111", "labelLimit": 300, "strokeColor": "#333", "fillColor": "white", "padding": 4}},
               "shape": {"datum": "Training data", "type": "nominal",
                         "scale": {"domain": ["MO-LRN", "MOHSM", "MO-LRN C.I.", "MOHSM C.I.", "Test data", "Training data"],
                                   "range": ["M-1,-0.035H1V0.035H-1Z", "M-1,-0.035H1V0.035H-1Z", "M-1,-0.13H1V0.13H-1Z", "M-1,-0.13H1V0.13H-1Z", "M0.1,0A0.1,0.1,0,1,1,-0.1,0A0.1,0.1,0,1,1,0.1,0Z", "M0.1,0A0.1,0.1,0,1,1,-0.1,0A0.1,0.1,0,1,1,0.1,0Z"]},
                         "legend": {"title": null, "orient": "none", "legendX": 0, "legendY": 283, "columns": 3, "columnPadding": 55, "rowPadding": 6, "clipHeight": 14, "symbolSize": 1849, "symbolStrokeWidth": 0, "labelOffset": 14, "labelFont": "Liberation Serif", "labelFontSize": 13.5, "labelColor": "#111", "labelLimit": 300, "strokeColor": "#333", "fillColor": "white", "padding": 4}}
             }},
            {"data": {"name": "top_test"},
             "mark": {"type": "point", "filled": true, "shape": "circle", "size": 14, "color": "#fdb367", "stroke": "white", "strokeWidth": 0.7, "opacity": 1, "clip": true},
             "encoding": {"y": {"field": "y", "type": "quantitative"}}}
          ]
        },
        {
          "width": 494,
          "height": 139,
          "data": {"name": "bottom_curve"},
          "encoding": {
            "x": {"field": "x", "type": "quantitative", "scale": {"domain": [0, 5], "nice": false, "zero": false},
                  "axis": {"values": [0, 1, 2, 3, 4, 5], "labels": false, "ticks": true, "tickSize": 4, "tickColor": "#222", "domain": true, "domainColor": "#333", "grid": true, "gridColor": "#b3b3b3", "gridWidth": 1}}
          },
          "layer": [
            {"mark": {"type": "area", "color": "#aec7e8", "opacity": 0.62, "interpolate": "monotone", "clip": true},
             "encoding": {"y": {"field": "bl", "type": "quantitative", "scale": {"domain": [-2.51, 2.7], "nice": false, "zero": false},
                                "axis": {"values": [-2, -1, 0, 1, 2], "labels": false, "ticks": true, "tickSize": 3, "tickColor": "#222", "domain": true, "domainColor": "#111", "domainWidth": 1.5, "grid": true, "gridColor": "#b3b3b3", "gridWidth": 1}},
                          "y2": {"field": "bh"}}},
            {"mark": {"type": "area", "color": "#ec9aa0", "opacity": 0.5, "interpolate": "monotone", "clip": true},
             "encoding": {"y": {"field": "rl", "type": "quantitative"}, "y2": {"field": "rh"}}},
            {"mark": {"type": "line", "color": "#e3474f", "strokeWidth": 2.5, "interpolate": "monotone", "clip": true},
             "encoding": {"y": {"field": "t", "type": "quantitative"}}},
            {"mark": {"type": "line", "color": "#2878b5", "strokeWidth": 2.5, "interpolate": "monotone", "clip": true},
             "encoding": {"y": {"field": "m", "type": "quantitative"}}},
            {"mark": {"type": "point", "filled": true, "size": 600, "opacity": 1, "clip": true},
             "encoding": {
               "y": {"field": "o", "type": "quantitative"},
               "color": {"datum": "Training data", "type": "nominal",
                         "scale": {"domain": ["MO-LRN", "MOHSM", "MO-LRN C.I.", "MOHSM C.I.", "Test data", "Training data"],
                                   "range": ["#e5555b", "#2a78b6", "#f6c9cd", "#bdd5ea", "#fdb36b", "#111111"]},
                         "legend": {"title": null, "orient": "none", "legendX": 0, "legendY": 283, "columns": 3, "columnPadding": 55, "rowPadding": 6, "clipHeight": 14, "symbolSize": 1849, "symbolStrokeWidth": 0, "labelOffset": 14, "labelFont": "Liberation Serif", "labelFontSize": 13.5, "labelColor": "#111", "labelLimit": 300, "strokeColor": "#333", "fillColor": "white", "padding": 4}},
               "shape": {"datum": "Training data", "type": "nominal",
                         "scale": {"domain": ["MO-LRN", "MOHSM", "MO-LRN C.I.", "MOHSM C.I.", "Test data", "Training data"],
                                   "range": ["M-1,-0.035H1V0.035H-1Z", "M-1,-0.035H1V0.035H-1Z", "M-1,-0.13H1V0.13H-1Z", "M-1,-0.13H1V0.13H-1Z", "M0.1,0A0.1,0.1,0,1,1,-0.1,0A0.1,0.1,0,1,1,0.1,0Z", "M0.1,0A0.1,0.1,0,1,1,-0.1,0A0.1,0.1,0,1,1,0.1,0Z"]},
                         "legend": {"title": null, "orient": "none", "legendX": 0, "legendY": 283, "columns": 3, "columnPadding": 55, "rowPadding": 6, "clipHeight": 14, "symbolSize": 1849, "symbolStrokeWidth": 0, "labelOffset": 14, "labelFont": "Liberation Serif", "labelFontSize": 13.5, "labelColor": "#111", "labelLimit": 300, "strokeColor": "#333", "fillColor": "white", "padding": 4}}
             }},
            {"data": {"name": "bottom_test"},
             "mark": {"type": "point", "filled": true, "shape": "circle", "size": 14, "color": "#fdb367", "stroke": "white", "strokeWidth": 0.7, "opacity": 1, "clip": true},
             "encoding": {"y": {"field": "y", "type": "quantitative"}}}
          ]
        }
      ]
    },
    {
      "title": {"text": "(b) Comparison on model performance", "orient": "bottom", "anchor": "middle", "fontSize": 23.5, "fontWeight": "normal", "offset": 10},
      "spacing": 5,
      "vconcat": [
        {
          "width": 505, "height": 6,
          "view": {"stroke": null},
          "data": {"name": "mae_heading"},
          "mark": {"type": "text", "font": "Liberation Serif", "fontSize": 14, "fontWeight": "bold", "color": "#000", "align": "center", "baseline": "middle"},
          "encoding": {"text": {"field": "heading"}}
        },
        {
          "width": 505, "height": 63,
          "view": {"stroke": null},
          "data": {"name": "mae"},
          "encoding": {
            "y": {"field": "model", "type": "nominal", "sort": ["MO-LRN 2Q", "MOHSM 4P4Q", "MOHSM 4P4Q (init)", "MOHSM 2P2Q", "MOHSM 2P2Q (init)"], "axis": null, "scale": {"paddingInner": 0.37, "paddingOuter": 0.155}},
            "x": {"field": "v", "type": "quantitative", "scale": {"domain": [0, 0.657], "nice": false},
                  "axis": {"values": [0, 0.1, 0.2, 0.3, 0.4, 0.5, 0.6], "format": ".1f", "labelFontSize": 4.5, "labelColor": "#333", "ticks": false, "labelPadding": 2, "domainColor": "#000", "domainWidth": 1.5, "grid": true, "gridColor": "#d9d9d9", "gridDash": [2, 2], "gridWidth": 0.8}}
          },
          "layer": [
            {"mark": {"type": "bar", "stroke": "#333", "strokeWidth": 1.1},
             "encoding": {"color": {"field": "model", "type": "nominal",
                                    "scale": {"domain": ["MOHSM 2P2Q", "MOHSM 4P4Q", "MOHSM 2P2Q (init)", "MOHSM 4P4Q (init)", "MO-LRN 2Q"], "range": ["#3d85c1", "#fd9432", "#66a5de", "#ffbb7c", "#4caf4f"]},
                                    "legend": {"title": null, "orient": "none", "legendX": -1, "legendY": 279, "columns": 3, "columnPadding": 37, "rowPadding": 6, "clipHeight": 14, "symbolType": "M-1,-0.21H1V0.21H-1Z", "symbolSize": 1444, "symbolStrokeColor": "#333", "symbolStrokeWidth": 1, "labelOffset": 7, "labelFont": "Liberation Serif", "labelFontSize": 14, "labelColor": "#111", "labelLimit": 300, "strokeColor": "#333", "fillColor": "white", "padding": 5}}}},
            {"mark": {"type": "bar", "fill": "white", "stroke": "#999", "strokeWidth": 1, "cornerRadius": 2, "height": 12, "xOffset": 2,
                      "x2Offset": {"expr": "5 + 5*length(datum.label) - (indexof(datum.label, '.') >= 0 ? 2.5 : 0) - (indexof(datum.label, 's') >= 0 ? 1.1 : 0)"}},
             "encoding": {"x2": {"field": "v"}}},
            {"mark": {"type": "text", "align": "left", "baseline": "middle", "dx": 4, "fontSize": 10, "color": "#111"},
             "encoding": {"text": {"field": "label"}}}
          ]
        },
        {
          "width": 505, "height": 63,
          "view": {"stroke": null},
          "title": {"text": "Training Time Comparison(s)", "fontSize": 14, "fontWeight": "bold", "offset": 5},
          "data": {"name": "time"},
          "encoding": {
            "y": {"field": "model", "type": "nominal", "sort": ["MO-LRN 2Q", "MOHSM 4P4Q", "MOHSM 4P4Q (init)", "MOHSM 2P2Q", "MOHSM 2P2Q (init)"], "axis": null, "scale": {"paddingInner": 0.37, "paddingOuter": 0.155}},
            "x": {"field": "v", "type": "quantitative", "scale": {"domain": [0, 127.8], "nice": false},
                  "axis": {"values": [0, 20, 40, 60, 80, 100, 120], "format": "d", "labelFontSize": 4.5, "labelColor": "#333", "ticks": false, "labelPadding": 2, "domainColor": "#000", "domainWidth": 1.5, "grid": true, "gridColor": "#d9d9d9", "gridDash": [2, 2], "gridWidth": 0.8}}
          },
          "layer": [
            {"mark": {"type": "bar", "stroke": "#333", "strokeWidth": 1.1},
             "encoding": {"color": {"field": "model", "type": "nominal",
                                    "scale": {"domain": ["MOHSM 2P2Q", "MOHSM 4P4Q", "MOHSM 2P2Q (init)", "MOHSM 4P4Q (init)", "MO-LRN 2Q"], "range": ["#3d85c1", "#fd9432", "#66a5de", "#ffbb7c", "#4caf4f"]},
                                    "legend": {"title": null, "orient": "none", "legendX": -1, "legendY": 279, "columns": 3, "columnPadding": 37, "rowPadding": 6, "clipHeight": 14, "symbolType": "M-1,-0.21H1V0.21H-1Z", "symbolSize": 1444, "symbolStrokeColor": "#333", "symbolStrokeWidth": 1, "labelOffset": 7, "labelFont": "Liberation Serif", "labelFontSize": 14, "labelColor": "#111", "labelLimit": 300, "strokeColor": "#333", "fillColor": "white", "padding": 5}}}},
            {"mark": {"type": "bar", "fill": "white", "stroke": "#999", "strokeWidth": 1, "cornerRadius": 2, "height": 12, "xOffset": 2,
                      "x2Offset": {"expr": "5 + 5*length(datum.label) - (indexof(datum.label, '.') >= 0 ? 2.5 : 0) - (indexof(datum.label, 's') >= 0 ? 1.1 : 0)"}},
             "encoding": {"x2": {"field": "v"}}},
            {"mark": {"type": "text", "align": "left", "baseline": "middle", "dx": 4, "fontSize": 10, "color": "#111"},
             "encoding": {"text": {"field": "label"}}}
          ]
        },
        {
          "width": 505, "height": 63,
          "view": {"stroke": null},
          "title": {"text": "Parameter Size Comparison", "fontSize": 14, "fontWeight": "bold", "offset": 5},
          "data": {"name": "params"},
          "encoding": {
            "y": {"field": "model", "type": "nominal", "sort": ["MO-LRN 2Q", "MOHSM 4P4Q", "MOHSM 4P4Q (init)", "MOHSM 2P2Q", "MOHSM 2P2Q (init)"], "axis": null, "scale": {"paddingInner": 0.37, "paddingOuter": 0.155}},
            "x": {"field": "v", "type": "quantitative", "scale": {"domain": [0, 245.5], "nice": false},
                  "axis": {"values": [0, 50, 100, 150, 200], "format": "d", "labelFontSize": 4.5, "labelColor": "#333", "ticks": false, "labelPadding": 2, "domainColor": "#000", "domainWidth": 1.5, "grid": true, "gridColor": "#d9d9d9", "gridDash": [2, 2], "gridWidth": 0.8}}
          },
          "layer": [
            {"mark": {"type": "bar", "stroke": "#333", "strokeWidth": 1.1},
             "encoding": {"color": {"field": "model", "type": "nominal",
                                    "scale": {"domain": ["MOHSM 2P2Q", "MOHSM 4P4Q", "MOHSM 2P2Q (init)", "MOHSM 4P4Q (init)", "MO-LRN 2Q"], "range": ["#3d85c1", "#fd9432", "#66a5de", "#ffbb7c", "#4caf4f"]},
                                    "legend": {"title": null, "orient": "none", "legendX": -1, "legendY": 279, "columns": 3, "columnPadding": 37, "rowPadding": 6, "clipHeight": 14, "symbolType": "M-1,-0.21H1V0.21H-1Z", "symbolSize": 1444, "symbolStrokeColor": "#333", "symbolStrokeWidth": 1, "labelOffset": 7, "labelFont": "Liberation Serif", "labelFontSize": 14, "labelColor": "#111", "labelLimit": 300, "strokeColor": "#333", "fillColor": "white", "padding": 5}}}},
            {"mark": {"type": "bar", "fill": "white", "stroke": "#999", "strokeWidth": 1, "cornerRadius": 2, "height": 12, "xOffset": 2,
                      "x2Offset": {"expr": "5 + 5*length(datum.label) - (indexof(datum.label, '.') >= 0 ? 2.5 : 0) - (indexof(datum.label, 's') >= 0 ? 1.1 : 0)"}},
             "encoding": {"x2": {"field": "v"}}},
            {"mark": {"type": "text", "align": "left", "baseline": "middle", "dx": 4, "fontSize": 10, "color": "#111"},
             "encoding": {"text": {"field": "label"}}}
          ]
        }
      ]
    }
  ]
}
